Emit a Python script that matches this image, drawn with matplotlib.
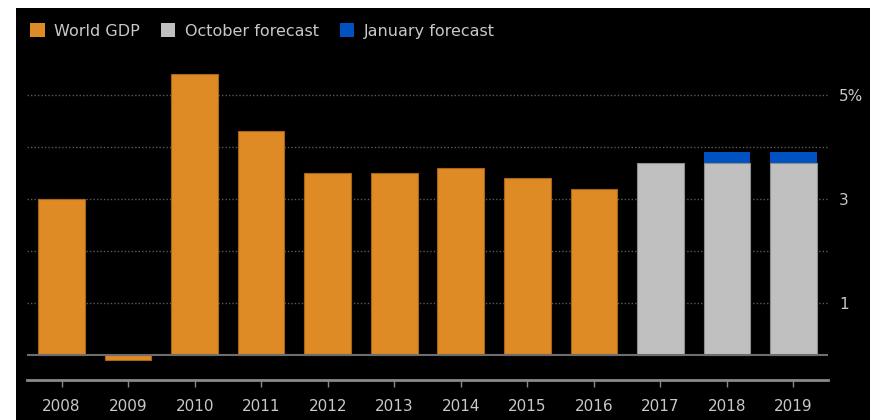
import matplotlib.pyplot as plt
from matplotlib.patches import Patch, Rectangle

years = ["2008", "2009", "2010", "2011", "2012", "2013",
         "2014", "2015", "2016", "2017", "2018", "2019"]
world_gdp = [3.0, -0.1, 5.4, 4.3, 3.5, 3.5, 3.6, 3.4, 3.2, None, None, None]
october_forecast = [None] * 9 + [3.7, 3.7, 3.7]
january_forecast = [None] * 9 + [3.7, 3.9, 3.9]

orange = "#DE8A25"
grey = "#C0C0C0"
blue = "#0052C2"
text_col = "#C8C8C8"
fonts = ["Liberation Sans Narrow", "DejaVu Sans"]

fig = plt.figure(figsize=(8.75, 4.2), dpi=100, facecolor="white")
# black panel behind everything
panel = Rectangle((16 / 875, 0), (870 - 16) / 875, 412 / 420,
                  transform=fig.transFigure, facecolor="black",
                  edgecolor="none", zorder=-10)
fig.add_artist(panel)

ax = fig.add_axes([27 / 875, 40 / 420, (828 - 27) / 875, (380 - 60) / 420])
ax.set_zorder(1)
ax.set_facecolor("black")

x = list(range(len(years)))
w = 0.7
for i in x:
    if world_gdp[i] is not None:
        ax.bar(i, world_gdp[i], width=w, color=orange, edgecolor="#A8651A",
               linewidth=0.8, zorder=3)
    if october_forecast[i] is not None:
        jan = january_forecast[i]
        oct_ = october_forecast[i]
        if jan > oct_:
            ax.bar(i, jan - oct_, bottom=oct_, width=w, color=blue,
                   edgecolor="none", zorder=3)
        ax.bar(i, oct_, width=w, color=grey, edgecolor="#8E8E8E",
               linewidth=0.8, zorder=3)

ax.set_xlim(-0.52, 11.52)
ax.set_ylim(-0.48, 5.67)

# dotted grid
for g in [1, 2, 3, 4, 5]:
    ax.axhline(g, color="#5A5A5A", linestyle=(0, (1, 1.5)), linewidth=1,
               zorder=1)
ax.axhline(0, color="#6E6E6E", linewidth=1.5, zorder=4)

for s in ["top", "left", "right"]:
    ax.spines[s].set_visible(False)
ax.spines["bottom"].set_color("#8A8A8A")
ax.spines["bottom"].set_linewidth(2)

ax.set_xticks(x)
ax.set_xticklabels(years, family=fonts, fontsize=11, color=text_col)
ax.tick_params(axis="x", length=5, width=1, color="#8A8A8A", pad=9)

ax.yaxis.tick_right()
ax.set_yticks([1, 3, 5])
ax.set_yticklabels(["1", "3", "5%"], family=fonts, fontsize=11,
                   color=text_col)
ax.tick_params(axis="y", length=0, pad=8)

handles = [Patch(facecolor=orange, edgecolor="none"),
           Patch(facecolor=grey, edgecolor="none"),
           Patch(facecolor=blue, edgecolor="none")]
leg = fig.legend(handles, ["World GDP", "October forecast", "January forecast"],
                 loc="upper left", bbox_to_anchor=(16 / 875, 1 - 9 / 420),
                 ncol=3, frameon=False, handlelength=0.9, handleheight=0.9,
                 handletextpad=0.6, columnspacing=1.3,
                 prop={"family": fonts, "size": 11.5})
for t in leg.get_texts():
    t.set_color(text_col)

fig.savefig("out.png", dpi=100, facecolor="white")
